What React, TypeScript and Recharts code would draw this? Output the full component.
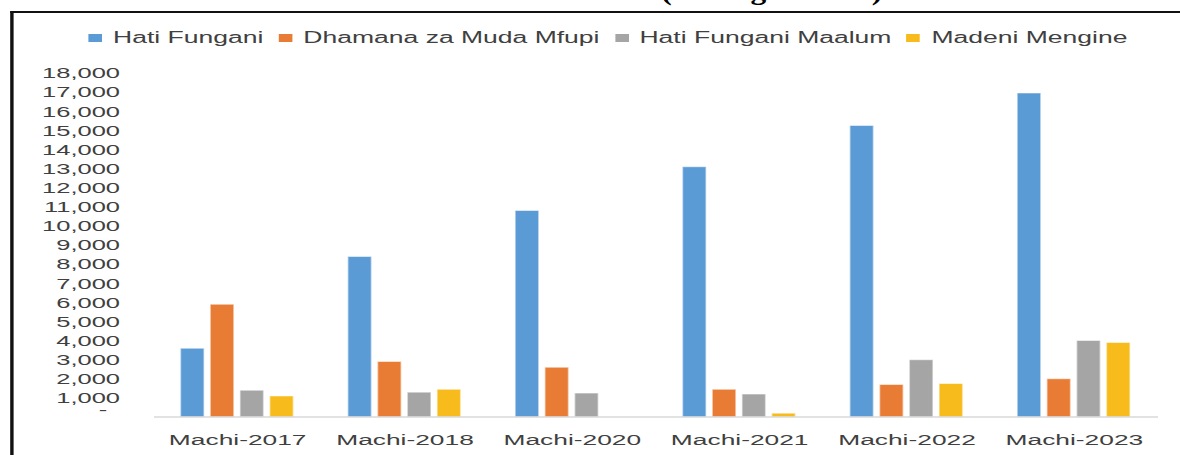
import React from 'react';
import { BarChart, Bar, XAxis, YAxis, Legend } from 'recharts';

// source picture is stretched sideways, so the chart is drawn narrow and widened
const STRETCH = 1.7;
const INNER_W = 1180 / STRETCH;
const TEXT = '#404040';

const periods = ['Machi-2017', 'Machi-2018', 'Machi-2020', 'Machi-2021', 'Machi-2022', 'Machi-2023'];
const hatiFungani = [3600, 8400, 10800, 13100, 15250, 16950];
const dhamanaMudaMfupi = [5900, 2900, 2600, 1450, 1700, 2000];
const hatiFunganiMaalum = [1400, 1300, 1250, 1200, 3000, 4000];
const madeniMengine = [1100, 1450, 0, 200, 1750, 3900];

const seriesKeys = ['hf', 'dm', 'hfm', 'mm'];
const seriesNames = ['Hati Fungani', 'Dhamana za Muda Mfupi', 'Hati Fungani Maalum', 'Madeni Mengine'];
const seriesColors = ['#5b9bd5', '#e97c35', '#a5a5a5', '#f7bc1c'];
const yTicks = [0, 1000, 2000, 3000, 4000, 5000, 6000, 7000, 8000, 9000, 10000, 11000, 12000, 13000, 14000, 15000, 16000, 17000, 18000];

const rows = periods.map((p, i) => ({
  period: p,
  hf: hatiFungani[i],
  dm: dhamanaMudaMfupi[i],
  hfm: hatiFunganiMaalum[i],
  mm: madeniMengine[i],
}));

function YTick(props: any) {
  const { x, y, payload } = props;
  const v = payload.value as number;
  if (v === 0) {
    return <text x={x - 7.5} y={y - 2} textAnchor="end" fill={TEXT} fontSize={15}>-</text>;
  }
  return (
    <text x={x} y={y} dy="0.355em" textAnchor="end" fill={TEXT} fontSize={15}>
      {v.toLocaleString('en-US')}
    </text>
  );
}

function renderLegend() {
  return (
    <div style={{ height: 20, display: 'flex', alignItems: 'center', paddingLeft: 52, fontSize: 15.6, color: TEXT, lineHeight: '20px', whiteSpace: 'nowrap' }}>
      {seriesNames.map((n, i) => (
        <span key={n} style={{ display: 'flex', alignItems: 'center', marginRight: 9 }}>
          <span style={{ display: 'inline-block', width: 8, height: 8, background: seriesColors[i], marginRight: 6.5 }} />
          {n}
        </span>
      ))}
    </div>
  );
}

export default function App() {
  return (
    <div style={{ position: 'absolute', left: 0, top: 0, width: 1180, height: 455, overflow: 'hidden', background: '#fff' }}>
      <div style={{ position: 'absolute', left: 0, top: 0, width: INNER_W, height: 455, transform: `scaleX(${STRETCH})`, transformOrigin: '0 0', fontFamily: '"Liberation Sans", Arial, sans-serif' }}>
        {/* title sits above the picture's top edge; only its descenders show */}
        <svg width={INNER_W} height={12} style={{ position: 'absolute', left: 0, top: 0 }}>
          <text x={454} y={-0.5} textAnchor="middle" textLength={130} lengthAdjust="spacingAndGlyphs" fontFamily='"Liberation Serif", serif' fontWeight="bold" fontSize={26} fill="#000">(Shilingi Bilioni)</text>
        </svg>
        <div style={{ position: 'absolute', left: 6, top: 11, width: INNER_W, height: 460, borderLeft: '2px solid #111', borderTop: '2px solid #111' }} />
        <div style={{ position: 'absolute', left: 0, top: 0 }}>
          <BarChart width={INNER_W} height={455} data={rows} margin={{ top: 53, right: 12.9, left: 0, bottom: 0 }} barCategoryGap={15.5} barGap={3.5}>
            <XAxis dataKey="period" height={38} interval={0} tickLine={false} tickSize={0} tickMargin={17} axisLine={{ stroke: '#d9d9d9', strokeWidth: 1.5 }} tick={{ fill: TEXT, fontSize: 15.5 }} />
            <YAxis width={90.6} domain={[0, 18000]} ticks={yTicks} interval={0} axisLine={false} tickLine={false} tickSize={0} tickMargin={20} tick={<YTick />} />
            <Legend verticalAlign="top" align="left" wrapperStyle={{ top: 28, left: 0 }} content={renderLegend} />
            {seriesKeys.map((k, i) => (
              <Bar key={k} dataKey={k} name={seriesNames[i]} fill={seriesColors[i]} stroke="#ffffff" strokeOpacity={0.5} strokeWidth={1} isAnimationActive={false} />
            ))}
          </BarChart>
        </div>
      </div>
    </div>
  );
}
